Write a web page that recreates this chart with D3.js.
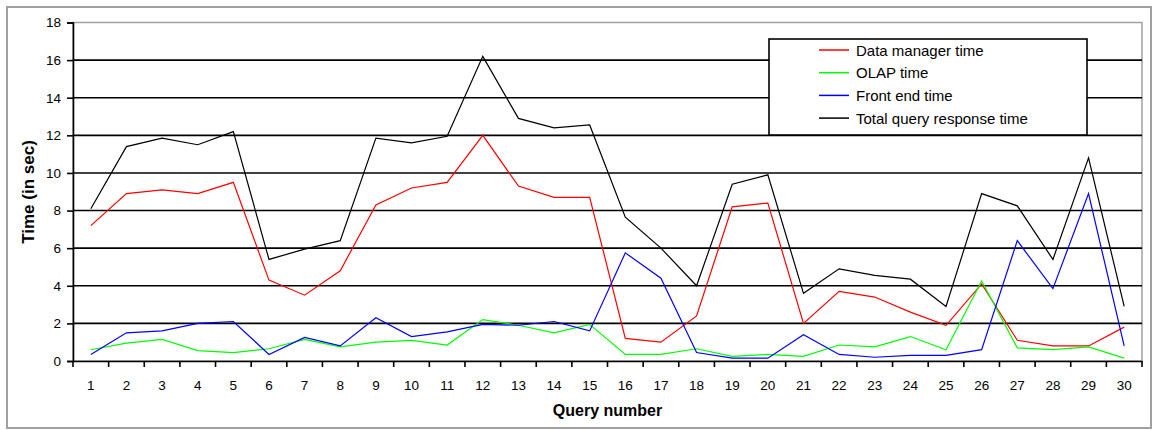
<!DOCTYPE html>
<html><head><meta charset="utf-8">
<script src="https://cdn.jsdelivr.net/npm/d3@7"></script>
<style>body{margin:0;background:#fff}svg{display:block}text{font-family:"Liberation Sans",Arial,sans-serif}</style>
</head><body><svg id="c" width="1156" height="430"></svg>
<script>
const queries = d3.range(1, 31);
const dataManager = [7.2,8.9,9.1,8.9,9.5,4.3,3.5,4.8,8.3,9.2,9.5,12.0,9.3,8.7,8.7,1.2,1.0,2.4,8.2,8.4,2.0,3.7,3.4,2.6,1.9,4.1,1.1,0.8,0.8,1.8];
const olap = [0.6,0.95,1.15,0.55,0.45,0.65,1.15,0.75,1.0,1.1,0.85,2.2,1.9,1.5,1.95,0.35,0.35,0.65,0.25,0.35,0.25,0.85,0.75,1.3,0.6,4.25,0.7,0.6,0.75,0.15];
const frontEnd = [0.35,1.5,1.6,2.0,2.1,0.35,1.25,0.8,2.3,1.3,1.55,1.95,1.9,2.1,1.6,5.75,4.4,0.45,0.15,0.15,1.4,0.35,0.2,0.3,0.3,0.6,6.4,3.85,8.9,0.8];
const total = [8.1,11.4,11.85,11.5,12.2,5.4,5.95,6.4,11.85,11.6,11.95,16.2,12.9,12.4,12.55,7.65,6.0,4.0,9.4,9.9,3.6,4.9,4.55,4.35,2.9,8.9,8.25,5.4,10.8,2.9];
const yTicks = [0,2,4,6,8,10,12,14,16,18];
const seriesNames = ["Data manager time","OLAP time","Front end time","Total query response time"];
const seriesColors = ["#ff0000","#00ff00","#0000ff","#000000"];
const seriesData = [dataManager, olap, frontEnd, total];

const svg = d3.select("#c");
const L = 73, R = 1142, T = 22.5, B = 361;
const x = d3.scaleBand().domain(queries).range([L, R]).paddingInner(0).paddingOuter(0);
const y = d3.scaleLinear().domain([0, 18]).range([B, T]);

// outer border
svg.append("rect").attr("x",7).attr("y",7).attr("width",1144).attr("height",421)
  .attr("fill","#fff").attr("stroke","#a0a0a0").attr("stroke-width",2);

// plot area border
svg.append("rect").attr("x",L).attr("y",T).attr("width",R-L).attr("height",B-T)
  .attr("fill","none").attr("stroke","#a0a0a0").attr("stroke-width",1.5);

// gridlines
svg.append("g").selectAll("line").data(yTicks.filter(d=>d>0 && d<18)).join("line")
  .attr("x1",L).attr("x2",R).attr("y1",d=>y(d)).attr("y2",d=>y(d))
  .attr("stroke","#000").attr("stroke-width",1.6);

// y axis
const yAxis = d3.axisLeft(y).tickValues(yTicks).tickSize(6).tickPadding(6).tickFormat(d3.format("d"));
const gy = svg.append("g").attr("transform",`translate(${L},0)`).call(yAxis);
gy.select(".domain").attr("stroke","#000").attr("stroke-width",1.6);
gy.selectAll(".tick line").attr("stroke","#000").attr("stroke-width",1.6);
gy.selectAll("text").attr("font-size",13.5).attr("fill","#000").attr("font-family","Liberation Sans, Arial, sans-serif");

// x axis
const xAxis = d3.axisBottom(x).tickSize(0).tickPadding(19);
const gx = svg.append("g").attr("transform",`translate(0,${B})`).call(xAxis);
gx.select(".domain").attr("stroke","#000").attr("stroke-width",1.6);
gx.selectAll("text").attr("font-size",13.5).attr("fill","#000").attr("font-family","Liberation Sans, Arial, sans-serif");
// category boundary ticks
const bounds = queries.map(q => x(q)).concat([R]);
svg.append("g").selectAll("line").data(bounds).join("line")
  .attr("x1",d=>d).attr("x2",d=>d).attr("y1",B).attr("y2",B+6)
  .attr("stroke","#000").attr("stroke-width",1.6);

// lines
const line = d3.line().x((d,i)=>x(queries[i]) + x.bandwidth()/2).y(d=>y(d));
seriesData.forEach((s,k)=>{
  svg.append("path").datum(s).attr("d",line).attr("fill","none")
    .attr("stroke",seriesColors[k]).attr("stroke-width",1.2).attr("stroke-linejoin","miter");
});

// axis titles
svg.append("text").attr("x",(L+R)/2).attr("y",416).attr("text-anchor","middle")
  .attr("font-weight","bold").attr("font-size",16).text("Query number");
svg.append("text").attr("transform","translate(34,192) rotate(-90)").attr("text-anchor","middle")
  .attr("font-weight","bold").attr("font-size",17).text("Time (in sec)");

// legend
const lg = svg.append("g");
lg.append("rect").attr("x",769).attr("y",39).attr("width",318).attr("height",96)
  .attr("fill","#fff").attr("stroke","#000").attr("stroke-width",1.6);
seriesNames.forEach((n,k)=>{
  const yy = 50 + k*22.7;
  lg.append("line").attr("x1",819).attr("x2",849).attr("y1",yy).attr("y2",yy)
    .attr("stroke",seriesColors[k]).attr("stroke-width",1.5);
  lg.append("text").attr("x",856).attr("y",yy+5.5).attr("font-size",15).text(n);
});
</script></body></html>
